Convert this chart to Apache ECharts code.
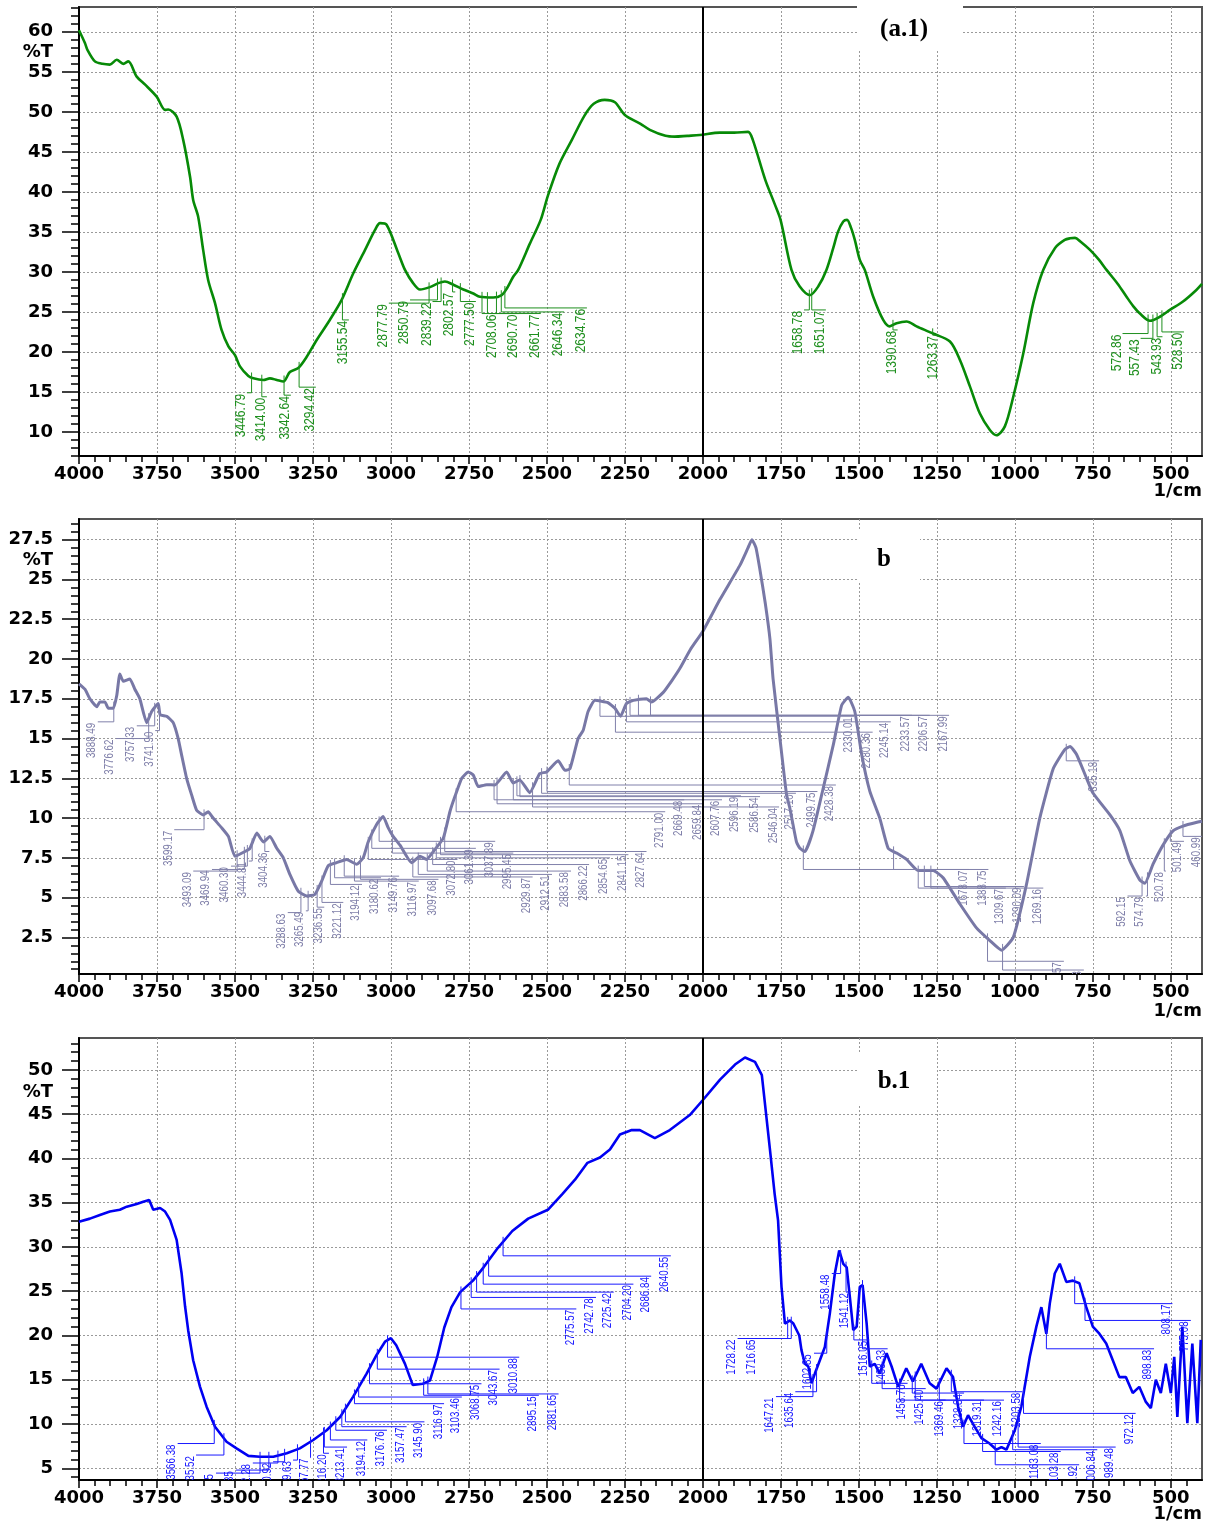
<!DOCTYPE html>
<html><head><meta charset="utf-8">
<script src="https://cdn.jsdelivr.net/npm/echarts@6/dist/echarts.min.js"></script>
<style>html,body{margin:0;padding:0;background:#fff}#c{width:1207px;height:1523px}</style>
</head><body><div id="c"></div>
<script>
// ---------- tick labels ----------
const xMajorTicks = [4000,3750,3500,3250,3000,2750,2500,2250,2000,1750,1500,1250,1000,750,500];
const yTicksA = [10,15,20,25,30,35,40,45,50,55,60];
const yTicksB = [2.5,5,7.5,10,12.5,15,17.5,20,22.5,25,27.5];
const yTicksC = [5,10,15,20,25,30,35,40,45,50];

// ---------- spectrum (a.1) : [wavenumber, %T] ----------
const specA = [[4000,60.2],[3981,58.6],[3973,57.75],[3949,56.3],[3925,56.0],[3901,55.9],[3879,56.5],[3858,56.0],[3842,56.3],[3815,54.4],[3788,53.4],[3751,51.9],[3724,50.25],[3714,50.3],[3687,49.4],[3666,46.5],[3644,41.9],[3634,39],[3618,36.9],[3602,32.75],[3586,29],[3564,26.1],[3543,22.75],[3521,20.7],[3500,19.6],[3484,18.2],[3457,17.0],[3441,16.7],[3409,16.5],[3388,16.7],[3366,16.5],[3345,16.3],[3324,17.5],[3297,18.0],[3270,19.4],[3238,21.5],[3196,24],[3158,26.5],[3121,29.8],[3083,32.75],[3051,35.25],[3035,36.1],[3014,35.9],[2977,32.4],[2955,30.25],[2929,28.6],[2907,27.8],[2875,28.1],[2848,28.6],[2827,28.8],[2800,28.4],[2768,27.8],[2736,27.3],[2715,26.9],[2672,26.8],[2645,27.1],[2629,27.9],[2608,29.4],[2592,30.25],[2555,33.5],[2520,36.5],[2497,39.5],[2460,43.5],[2420,46.5],[2380,49.5],[2350,51],[2315,51.5],[2282,51.2],[2250,49.6],[2200,48.5],[2170,47.75],[2120,47.0],[2090,46.9],[2050,47.0],[2010,47.1],[1945,47.4],[1900,47.4],[1855,47.5],[1840,46.5],[1800,41.5],[1770,38.5],[1751,36.5],[1716,30.25],[1690,28.2],[1657,27.1],[1630,28.2],[1604,30.25],[1582,33],[1567,35],[1550,36.3],[1538,36.5],[1525,35.5],[1513,34],[1497,31.5],[1481,30.25],[1454,26.9],[1422,24],[1401,23.2],[1379,23.6],[1347,23.8],[1315,23.2],[1262,22.3],[1208,21.3],[1176,19],[1144,15.7],[1112,12.3],[1080,10.25],[1059,9.6],[1032,10.7],[1005,14.4],[973,19.8],[941,26.1],[909,30.25],[871,33],[840,34],[823,34.2],[807,34.25],[790,33.8],[759,32.75],[730,31.5],[706,30.25],[670,28.5],[642,26.9],[620,25.7],[599,24.8],[567,23.9],[535,24.4],[503,25.25],[461,26.3],[418,27.75],[400,28.5]];

// ---------- spectrum (b) ----------
const specB = [[4000,18.44],[3981,18.1],[3965,17.5],[3943,17.0],[3933,17.3],[3917,17.3],[3906,16.9],[3890,16.9],[3879,17.7],[3869,19.06],[3858,18.6],[3837,18.75],[3821,18.1],[3805,17.5],[3783,16.0],[3767,16.7],[3746,17.2],[3740,16.5],[3719,16.4],[3698,16.0],[3682,15.0],[3671,13.96],[3655,12.5],[3639,11.46],[3623,10.5],[3602,10.2],[3586,10.4],[3570,10.0],[3543,9.4],[3521,8.85],[3500,7.6],[3468,7.9],[3452,8.1],[3430,9.06],[3409,8.5],[3388,8.85],[3366,8.1],[3345,7.5],[3324,6.46],[3297,5.4],[3270,5.1],[3244,5.2],[3222,6.04],[3201,7.0],[3174,7.2],[3142,7.4],[3110,7.1],[3089,7.5],[3073,8.5],[3046,9.6],[3025,10.1],[3009,9.4],[2993,8.85],[2971,8.3],[2934,7.2],[2907,7.6],[2886,7.4],[2864,7.9],[2832,8.75],[2811,10.4],[2795,11.35],[2773,12.5],[2752,12.9],[2736,12.7],[2720,11.98],[2693,12.1],[2667,12.08],[2629,12.9],[2608,12.2],[2587,12.4],[2555,11.6],[2523,12.8],[2501,12.9],[2464,13.6],[2442,13.0],[2426,13.1],[2400,15.0],[2384,15.5],[2368,16.7],[2346,17.4],[2304,17.25],[2282,16.9],[2264,16.4],[2245,17.2],[2223,17.4],[2181,17.5],[2165,17.3],[2127,17.9],[2101,18.6],[2074,19.4],[2040,20.6],[2000,21.75],[1945,23.75],[1881,25.9],[1855,27.0],[1843,27.5],[1830,27.0],[1817,25.6],[1800,23.5],[1785,21.25],[1775,18.75],[1753,15],[1732,11.5],[1721,10.6],[1700,8.5],[1689,8.1],[1673,7.9],[1647,9.2],[1614,11.9],[1582,14.6],[1555,17.1],[1534,17.6],[1513,16.7],[1491,14.0],[1465,11.7],[1433,10.0],[1406,8.1],[1379,7.8],[1347,7.4],[1310,6.7],[1262,6.7],[1230,6.25],[1176,4.6],[1123,3.1],[1080,2.3],[1043,1.7],[1005,2.5],[963,5.8],[920,10],[877,13.1],[840,14.3],[823,14.5],[802,14.0],[770,12.5],[749,11.56],[695,10.2],[663,9.2],[631,7.3],[599,6.1],[583,5.9],[557,7.1],[525,8.3],[493,9.2],[461,9.5],[413,9.75],[400,9.8]];

// ---------- spectrum (b.1) ----------
const specC = [[4000,32.86],[3965,33.2],[3933,33.6],[3901,34.0],[3869,34.2],[3847,34.55],[3815,34.86],[3794,35.1],[3775,35.3],[3762,34.2],[3740,34.4],[3724,34.0],[3708,33.05],[3687,30.8],[3671,27.0],[3660,23.3],[3650,20.6],[3634,17.2],[3612,14.2],[3591,11.96],[3564,9.7],[3527,8.0],[3495,7.25],[3457,6.4],[3420,6.3],[3377,6.3],[3334,6.7],[3292,7.25],[3249,8.2],[3206,9.3],[3163,10.8],[3121,13.1],[3078,15.7],[3046,17.8],[3019,19.3],[3000,19.7],[2983,18.9],[2955,16.8],[2930,14.4],[2898,14.55],[2875,14.9],[2852,17.55],[2829,20.9],[2806,23.2],[2778,24.9],[2737,26.2],[2703,27.7],[2657,29.9],[2611,31.8],[2560,33.2],[2497,34.2],[2450,36],[2410,37.6],[2370,39.5],[2330,40.1],[2298,41],[2266,42.7],[2228,43.2],[2202,43.2],[2154,42.3],[2106,43.2],[2042,44.9],[2000,46.6],[1945,48.9],[1897,50.6],[1865,51.4],[1833,50.9],[1811,49.4],[1785,41],[1770,36],[1759,33],[1748,25.5],[1737,21.35],[1721,21.7],[1710,21.35],[1691,20.0],[1684,18.35],[1673,16.8],[1662,16.5],[1652,14.6],[1641,15.7],[1625,17.2],[1609,18.7],[1593,22.5],[1577,27],[1563,29.6],[1550,28.1],[1539,27.7],[1529,24.4],[1518,20.6],[1507,21],[1497,25.5],[1488,25.7],[1475,21.35],[1465,16.5],[1449,16.8],[1433,15.7],[1411,18.0],[1395,16.5],[1374,14.2],[1348,16.3],[1327,14.8],[1300,16.8],[1273,14.6],[1251,14.0],[1219,16.3],[1198,15.3],[1182,12.0],[1166,9.7],[1150,11.0],[1129,9.7],[1107,8.4],[1081,7.8],[1059,7.1],[1043,7.4],[1027,7.1],[1000,9.3],[979,12.0],[952,17.6],[931,21.0],[915,23.2],[899,20.2],[888,23.6],[872,27],[856,28.1],[835,26.05],[814,26.2],[793,25.9],[771,23.2],[750,21],[729,20.2],[707,19.1],[686,17.2],[665,15.3],[644,15.3],[622,13.5],[601,14.2],[580,12.5],[564,11.8],[548,15.0],[532,13.5],[516,16.8],[500,13.5],[489,17.6],[479,10.8],[463,21],[447,10.1],[431,19.1],[415,10.1],[404,19.5]];

// ---------- peak labels: [text, label wavenumber, label top %T] ----------
const peaksA = [["3446.79",3481,14.9],["3414.00",3417,14.4],["3342.64",3340,14.6],["3294.42",3260,15.6],["3155.54",3154,24],["2877.79",3026,26.1],["2850.79",2958,26.5],["2839.22",2886,26.3],["2802.57",2813,27.5],["2777.50",2747,26.3],["2708.06",2677,24.8],["2690.70",2608,24.8],["2661.77",2539,24.8],["2646.34",2464,25.0],["2634.76",2391,25.5],["1658.78",1695,25.25],["1651.07",1625,25.25],["1390.68",1395,22.75],["1263.37",1262,22.1],["572.86",674,22.3],["557.43",616,21.7],["543.93",546,21.9],["528.50",477,22.5]];
const peaksB = [["3888.49",3959,16.05],["3776.62",3901,15.0],["3757.33",3834,15.8],["3741.90",3775,15.5],["3599.17",3714,9.27],["3493.09",3653,6.67],["3469.94",3593,6.77],["3460.30",3532,6.98],["3444.81",3475,7.3],["3404.36",3409,7.9],["3288.63",3350,4.06],["3265.49",3292,4.17],["3236.55",3233,4.4],["3221.12",3172,4.7],["3194.12",3112,5.83],["3180.62",3051,6.25],["3149.76",2993,6.35],["3116.97",2930,6.04],["3097.68",2867,6.15],["3072.80",2806,7.4],["3061.39",2747,8.1],["3037.89",2685,8.54],["2995.45",2627,7.8],["2929.87",2565,6.3],["2912.51",2503,6.46],["2883.58",2442,6.67],["2866.22",2384,7.08],["2854.65",2317,7.5],["2841.15",2258,7.7],["2827.64",2200,7.9],["2791.00",2140,10.4],["2669.48",2079,11.15],["2659.84",2018,10.9],["2607.76",1958,11.15],["2596.19",1897,11.4],["2586.54",1836,11.35],["2546.04",1775,10.7],["2517.10",1721,11.56],["2499.75",1652,11.67],["2428.38",1593,12.08],["2330.01",1534,16.4],["2280.36",1475,15.4],["2245.14",1417,16.05],["2233.57",1349,16.46],["2206.57",1292,16.46],["2167.99",1230,16.46],["1678.07",1166,6.77],["1388.75",1104,6.77],["1309.67",1048,5.6],["1290.09",990,5.7],["1269.16",928,5.6],["1087.57",862,1.0],["1039.33",798,0.45],["835.18",749,13.6],["592.15",658,5.1],["574.79",599,5.1],["520.78",535,6.67],["501.49",477,8.54],["460.99",416,8.85]];
const peaksC = [["3566.38",3703,7.8],["3535.52",3644,6.5],["3419.65",3580,4.46],["3391.35",3516,4.8],["3362.28",3462,5.6],["3340.92",3397,5.74],["3299.63",3333,5.93],["3257.77",3276,6.2],["3216.20",3218,6.7],["3213.41",3160,7.4],["3194.12",3095,8.2],["3176.76",3032,9.3],["3157.47",2969,9.7],["3145.90",2912,10.25],["3116.97",2849,12.3],["3103.46",2792,13.05],["3068.75",2729,14.55],["3043.67",2671,16.2],["3010.88",2608,17.55],["2895.15",2545,13.25],["2881.65",2482,13.4],["2775.57",2425,23.0],["2742.78",2362,24.3],["2725.42",2305,24.9],["2704.20",2242,25.8],["2686.84",2185,26.7],["2640.55",2122,29.0],["1728.22",1908,19.66],["1716.65",1844,19.66],["1647.21",1785,13.1],["1635.64",1723,13.65],["1602.85",1663,18.0],["1558.48",1606,27.0],["1541.12",1545,24.9],["1516.05",1486,19.5],["1488.33",1427,18.5],["1458.76",1363,14.6],["1425.40",1305,14.0],["1369.46",1241,12.7],["1328.84",1182,13.5],["1319.31",1118,12.7],["1242.16",1054,12.7],["1203.58",995,13.65],["1163.08",936,7.8],["1103.28",872,6.9],["1062.92",813,5.4],["1006.84",755,7.1],["989.48",696,7.4],["972.12",632,11.2],["898.83",573,18.5],["808.17",514,23.6],["775.08",455,21.7]];

// ---------- rendering ----------
function range(a, b, s) { const r = []; for (let v = a; v <= b + 1e-9; v += s) r.push(+v.toFixed(3)); return r; }
function interp(spec, w) {
  for (let i = 0; i < spec.length - 1; i++) {
    const a = spec[i], b = spec[i + 1];
    if (w <= a[0] && w >= b[0]) { const f = (a[0] - w) / (a[0] - b[0]); return a[1] + f * (b[1] - a[1]); }
  }
  return spec[spec.length - 1][1];
}
const xMinor = range(450, 4000, 50);
const tickFont = { color: '#000', fontFamily: 'DejaVu Sans', fontSize: 18, fontWeight: 'bold', formatter: v => String(v) };
const gridStyle = { color: '#9a9a9a', type: [2, 2], width: 1 };

const panels = [
  { top: 7, height: 449, ymin: 7, ymax: 63.1, yt: yTicksA, yminor: range(7, 63, 1), spec: specA, peaks: peaksA, color: '#078a07', lcolor: '#1e8f1e', lw: 2.6, fs: 15, sx: 0.8, smooth: 0.3 },
  { top: 519, height: 455, ymin: 0.2, ymax: 28.8, yt: yTicksB, yminor: range(0.5, 28.5, 0.5), spec: specB, peaks: peaksB, color: '#7878a6', lcolor: '#8080aa', lw: 3, fs: 12.5, sx: 0.78, smooth: 0.15 },
  { top: 1038, height: 442, ymin: 3.68, ymax: 53.6, yt: yTicksC, yminor: range(4, 53, 1), spec: specC, peaks: peaksC, color: '#0000f2', lcolor: '#1a1aff', lw: 2.6, fs: 12.5, sx: 0.78, smooth: false }
];

const grid = [], xAxis = [], yAxis = [], series = [];
panels.forEach((p, i) => {
  grid.push({ left: 79, top: p.top, width: 1123, height: p.height, show: true, borderColor: '#555', borderWidth: 2, backgroundColor: 'transparent' });
  xAxis.push({ type: 'value', gridIndex: i, min: 400, max: 4000, inverse: true, position: 'bottom',
    axisLine: { show: true, onZero: false, lineStyle: { color: '#000', width: 2 } },
    axisTick: { show: true, customValues: xMajorTicks, length: 8, lineStyle: { color: '#000', width: 1.5 } },
    axisLabel: Object.assign({ show: true, customValues: xMajorTicks, margin: 9 }, tickFont),
    splitLine: { show: true, lineStyle: gridStyle } });
  xAxis.push({ type: 'value', gridIndex: i, min: 400, max: 4000, inverse: true, position: 'bottom',
    axisLine: { show: false, onZero: false },
    axisTick: { show: true, customValues: xMinor, length: 6, lineStyle: { color: '#000', width: 1.5 } },
    axisLabel: { show: false }, splitLine: { show: false } });
  yAxis.push({ type: 'value', gridIndex: i, min: p.ymin, max: p.ymax, position: 'left',
    axisLine: { show: true, onZero: false, lineStyle: { color: '#000', width: 2 } },
    axisTick: { show: true, customValues: p.yt, length: 17, lineStyle: { color: '#000', width: 1.5 } },
    axisLabel: Object.assign({ show: true, customValues: p.yt, margin: 26 }, tickFont),
    splitLine: { show: true, lineStyle: gridStyle } });
  yAxis.push({ type: 'value', gridIndex: i, min: p.ymin, max: p.ymax, position: 'left',
    axisLine: { show: false, onZero: false },
    axisTick: { show: true, customValues: p.yminor, length: 8, lineStyle: { color: '#000', width: 1.5 } },
    axisLabel: { show: false }, splitLine: { show: false } });

  series.push({ type: 'line', xAxisIndex: 2 * i, yAxisIndex: 2 * i, data: p.spec, showSymbol: false, symbol: 'none',
    smooth: p.smooth, lineStyle: { color: p.color, width: p.lw }, z: 3, animation: false,
    markLine: { silent: true, symbol: 'none', label: { show: false }, animation: false,
      lineStyle: { color: '#000', width: 2, type: 'solid' }, data: [{ xAxis: 2000 }] } });

  const pk = p.peaks;
  series.push({ type: 'custom', xAxisIndex: 2 * i, yAxisIndex: 2 * i, clip: true, z: 4, animation: false, silent: true,
    data: pk.map(d => [d[1], d[2], parseFloat(d[0]), interp(p.spec, parseFloat(d[0]))]),
    renderItem: function (params, api) {
      const txt = pk[params.dataIndex][0];
      const pt = api.coord([api.value(2), api.value(3)]);
      const lb = api.coord([api.value(0), api.value(1)]);
      return { type: 'group', children: [
        { type: 'polyline', shape: { points: [[pt[0], pt[1] - 5], [pt[0], lb[1]], [lb[0] + 6, lb[1]]] },
          style: { stroke: p.lcolor, lineWidth: 1, fill: null } },
        { type: 'text', x: lb[0], y: lb[1] + 1, rotation: Math.PI / 2, scaleX: p.sx, scaleY: 1,
          style: { text: txt, fill: p.lcolor, fontFamily: "'Liberation Sans', Arial, sans-serif", fontSize: p.fs, align: 'right', verticalAlign: 'middle' } }
      ] };
    } });
});

const axisTxt = { fontFamily: 'DejaVu Sans', fontSize: 18, fontWeight: 'bold', fill: '#000' };
const titleTxt = { fontFamily: "'Liberation Serif', 'DejaVu Serif', serif", fontSize: 25, fontWeight: 'bold', fill: '#000' };
const graphic = [
  { type: 'rect', left: 857, top: 4, shape: { width: 106, height: 47 }, style: { fill: '#fff' }, z: 1 },
  { type: 'rect', left: 857, top: 530, shape: { width: 63, height: 52 }, style: { fill: '#fff' }, z: 1 },
  { type: 'rect', left: 857, top: 1052, shape: { width: 80, height: 54 }, style: { fill: '#fff' }, z: 1 },
  { type: 'text', x: 904, y: 30, style: Object.assign({ text: '(a.1)', align: 'center', verticalAlign: 'middle' }, titleTxt), z: 5 },
  { type: 'text', x: 884, y: 560, style: Object.assign({ text: 'b', align: 'center', verticalAlign: 'middle' }, titleTxt), z: 5 },
  { type: 'text', x: 894, y: 1082, style: Object.assign({ text: 'b.1', align: 'center', verticalAlign: 'middle' }, titleTxt), z: 5 },
  { type: 'text', x: 53, y: 52, style: Object.assign({ text: '%T', align: 'right', verticalAlign: 'middle' }, axisTxt), z: 5 },
  { type: 'text', x: 53, y: 560, style: Object.assign({ text: '%T', align: 'right', verticalAlign: 'middle' }, axisTxt), z: 5 },
  { type: 'text', x: 53, y: 1092, style: Object.assign({ text: '%T', align: 'right', verticalAlign: 'middle' }, axisTxt), z: 5 },
  { type: 'text', x: 1202, y: 491, style: Object.assign({ text: '1/cm', align: 'right', verticalAlign: 'middle' }, axisTxt), z: 5 },
  { type: 'text', x: 1202, y: 1011, style: Object.assign({ text: '1/cm', align: 'right', verticalAlign: 'middle' }, axisTxt), z: 5 },
  { type: 'text', x: 1202, y: 1514, style: Object.assign({ text: '1/cm', align: 'right', verticalAlign: 'middle' }, axisTxt), z: 5 }
];

const chart = echarts.init(document.getElementById('c'), null, { renderer: 'canvas' });
chart.setOption({ backgroundColor: '#fff', animation: false, grid, xAxis, yAxis, series, graphic });
</script></body></html>
